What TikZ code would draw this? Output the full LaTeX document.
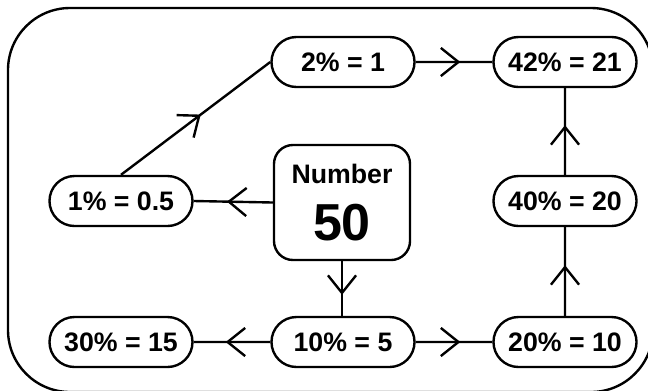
\documentclass[tikz,border=0pt]{standalone}
\usepackage{fontspec}
\setmainfont{Liberation Sans}
\usepackage{tikz}
\usetikzlibrary{arrows.meta,shapes.misc,decorations.markings}
\tikzstyle{pill}=[rounded rectangle, draw=black, fill=white, line width=1.7pt, minimum width=3.575cm, minimum height=1.25cm, inner sep=0pt, font=\bfseries\fontsize{19}{23}\selectfont]
\tikzstyle{numbox}=[rectangle, rounded corners=0.475cm, draw=black, fill=white, line width=1.7pt, minimum width=3.4cm, minimum height=2.875cm, align=center, font=\bfseries\fontsize{19}{41}\selectfont]
\tikzstyle{midarrow}=[postaction={decorate}, decoration={markings, mark=at position 0.5 with {\arrow[xshift=4.5pt]{Straight Barb[length=12.5pt,width=20pt]}}}]

\begin{document}
\begin{tikzpicture}[x=0.025cm, y=-0.025cm, line width=1.7pt]
	\clip (0,0) rectangle (648,390);
	\draw[rounded corners=1.55cm] (8,8) rectangle (653,392);
	\node[numbox] (num) at (342,202.5){Number\\{\fontsize{37}{41}\selectfont 50}};
	\node[pill] (p2) at (343,62){2\% = 1};
	\node[pill] (p42) at (565,62){42\% = 21};
	\node[pill] (p1) at (121,201){1\% = 0.5};
	\node[pill] (p40) at (565,201){40\% = 20};
	\node[pill] (p30) at (121,342){30\% = 15};
	\node[pill] (p10) at (343,342){10\% = 5};
	\node[pill] (p20) at (565,342){20\% = 10};
	\path[draw=black, midarrow] (p1.north) -- (p2.west);
	\path[draw=black, midarrow] (p2) -- (p42);
	\path[draw=black, midarrow] (p40) -- (p42);
	\path[draw=black, midarrow] (p20) -- (p40);
	\path[draw=black, midarrow] (p10) -- (p20);
	\path[draw=black, midarrow] (p10) -- (p30);
	\path[draw=black, midarrow] (num.west) -- (p1.east);
	\path[draw=black, midarrow] (num.south) -- (num.south |- p10.north);
\end{tikzpicture}
\end{document}
